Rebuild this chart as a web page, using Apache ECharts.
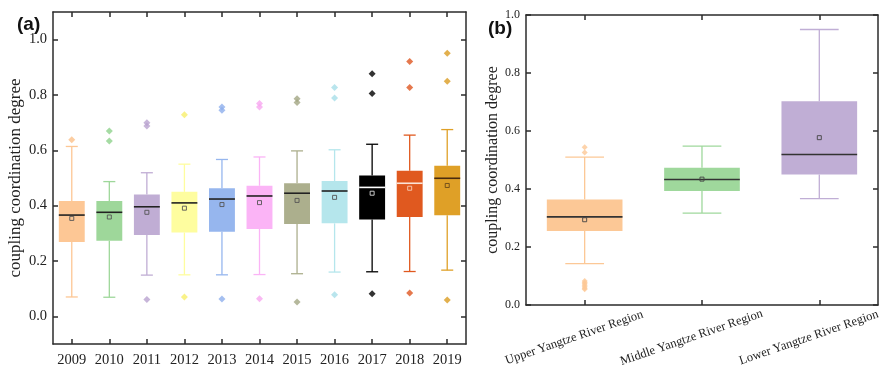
<!DOCTYPE html>
<html>
<head>
<meta charset="utf-8">
<script src="https://cdn.jsdelivr.net/npm/echarts@6/dist/echarts.min.js"></script>
<style>
  html, body { margin: 0; padding: 0; background: #fff; }
  #chart { width: 882px; height: 370px; }
</style>
</head>
<body>
<div id="chart"></div>
<script>
// ---- Panel (a): yearly distribution of the coupling coordination degree ----
const years = ['2009', '2010', '2011', '2012', '2013', '2014', '2015', '2016', '2017', '2018', '2019'];
const lowA  = [0.070, 0.069, 0.149, 0.150, 0.150, 0.151, 0.154, 0.160, 0.161, 0.162, 0.167];
const q1A   = [0.269, 0.273, 0.294, 0.303, 0.306, 0.316, 0.334, 0.336, 0.350, 0.359, 0.365];
const medA  = [0.366, 0.376, 0.396, 0.410, 0.424, 0.435, 0.445, 0.453, 0.466, 0.481, 0.499];
const q3A   = [0.417, 0.417, 0.440, 0.450, 0.463, 0.472, 0.481, 0.489, 0.509, 0.526, 0.544];
const highA = [0.614, 0.487, 0.519, 0.550, 0.567, 0.576, 0.598, 0.602, 0.622, 0.655, 0.675];
const meanA = [0.354, 0.359, 0.376, 0.391, 0.404, 0.411, 0.419, 0.430, 0.445, 0.463, 0.473];
const outA = [
  [0.638],
  [0.670, 0.634],
  [0.700, 0.688, 0.061],
  [0.729, 0.070],
  [0.757, 0.745, 0.063],
  [0.769, 0.757, 0.064],
  [0.786, 0.773, 0.052],
  [0.827, 0.789, 0.078],
  [0.877, 0.805, 0.082],
  [0.921, 0.827, 0.084],
  [0.951, 0.850, 0.059]
];
const yTicksA = [0, 0.2, 0.4, 0.6, 0.8, 1.0];

// ---- Panel (b): distribution by region ----
const regions = ['Upper Yangtze River Region', 'Middle Yangtze River Region', 'Lower Yangtze River Region'];
const lowB  = [0.143, 0.317, 0.367];
const q1B   = [0.255, 0.393, 0.450];
const medB  = [0.304, 0.433, 0.519];
const q3B   = [0.364, 0.473, 0.703];
const highB = [0.510, 0.548, 0.950];
const meanB = [0.294, 0.434, 0.577];
const outB = [
  [0.544, 0.526, 0.083, 0.078, 0.073, 0.068, 0.063, 0.058, 0.054],
  [],
  []
];

// ---- Styling ----
const fillA = ['#FDC795', '#9ED79A', '#C0ADD4', '#FEFD9F', '#96B6EE', '#FBB4F6',
               '#ACAF8D', '#B5E6EC', '#000000', '#E0591F', '#DFA027'];
const dotA  = ['#FBC08A', '#8FD28C', '#B9A3CF', '#F7EF6C', '#8EAFEC', '#F7A8F0',
               '#A3A683', '#A8DFE8', '#000000', '#DE5620', '#DB9C22'];
const medColA  = ['#222', '#222', '#222', '#222', '#222', '#222', '#222', '#222', '#ffffff', '#fbe3d6', '#4a2c0f'];
const meanColA = ['#555', '#555', '#555', '#555', '#555', '#555', '#555', '#555', '#dddddd', '#f6cdb6', '#6b4a1a'];
const fillB = ['#FCC896', '#9FD89C', '#C0AED5'];
const medColB  = ['#333', '#333', '#333'];
const meanColB = ['#444', '#444', '#444'];

const serif = "'Liberation Serif', 'Times New Roman', serif";
const frame = { color: '#2b2b2b', width: 1.5 };

function rows(low, q1, med, q3, high, mean) {
  return low.map((v, i) => [i, v, q1[i], med[i], q3[i], high[i], mean[i]]);
}

function outlierPoints(cats, outs, colors) {
  const pts = [];
  outs.forEach((list, i) => list.forEach(v => pts.push({ value: [cats[i], v], itemStyle: { color: colors[i] } })));
  return pts;
}

function boxRenderer(fills, medCols, meanCols, boxRatio, capRatio) {
  return function (params, api) {
    const i = api.value(0);
    const band = api.size([1, 0])[0];
    const cx = api.coord([i, 0])[0];
    const y = k => api.coord([i, api.value(k)])[1];
    const yLow = y(1), yQ1 = y(2), yMed = y(3), yQ3 = y(4), yHigh = y(5), yMean = y(6);
    const bw = band * boxRatio, cw = band * capRatio;
    const c = fills[params.dataIndex];
    const ws = { stroke: c, lineWidth: 1.3 };
    return {
      type: 'group',
      children: [
        { type: 'line', shape: { x1: cx, y1: yHigh, x2: cx, y2: yQ3 }, style: ws },
        { type: 'line', shape: { x1: cx, y1: yQ1, x2: cx, y2: yLow }, style: ws },
        { type: 'line', shape: { x1: cx - cw / 2, y1: yHigh, x2: cx + cw / 2, y2: yHigh }, style: ws },
        { type: 'line', shape: { x1: cx - cw / 2, y1: yLow, x2: cx + cw / 2, y2: yLow }, style: ws },
        { type: 'rect', shape: { x: cx - bw / 2, y: yQ3, width: bw, height: yQ1 - yQ3 }, style: { fill: c } },
        { type: 'line', shape: { x1: cx - bw / 2, y1: yMed, x2: cx + bw / 2, y2: yMed },
          style: { stroke: medCols[params.dataIndex], lineWidth: 1.6 } },
        { type: 'rect', shape: { x: cx - 2, y: yMean - 2, width: 4, height: 4 },
          style: { fill: 'none', stroke: meanCols[params.dataIndex], lineWidth: 0.9 } }
      ]
    };
  };
}

function catAxis(gridIndex, data, position, labels) {
  return {
    gridIndex, type: 'category', data, position,
    axisLine: { show: true, onZero: false, lineStyle: frame },
    axisTick: { show: true, inside: true, length: 5, alignWithLabel: true, interval: 0, lineStyle: frame },
    axisLabel: labels || { show: false },
    splitLine: { show: false }
  };
}

function valAxis(gridIndex, position, extra) {
  return Object.assign({
    gridIndex, type: 'value', position,
    axisLine: { show: true, onZero: false, lineStyle: frame },
    splitLine: { show: false }
  }, extra);
}

const chart = echarts.init(document.getElementById('chart'), null, { renderer: 'canvas' });

chart.setOption({
  animation: false,
  backgroundColor: '#fff',
  title: [
    { text: '(a)', left: 12, top: 10, textStyle: { fontFamily: "'Liberation Sans', Arial, sans-serif", fontWeight: 'bold', fontSize: 19, color: '#111' } },
    { text: '(b)', left: 483, top: 14, textStyle: { fontFamily: "'Liberation Sans', Arial, sans-serif", fontWeight: 'bold', fontSize: 19, color: '#111' } }
  ],
  grid: [
    { left: 53, top: 12, right: 416, bottom: 26 },
    { left: 526, top: 15, right: -2, bottom: 65 }
  ],
  xAxis: [
    catAxis(0, years, 'bottom', { show: true, interval: 0, hideOverlap: false, fontFamily: serif, fontSize: 14.5, color: '#222', margin: 9 }),
    catAxis(0, years, 'top'),
    catAxis(1, regions, 'bottom', {
      show: true, fontFamily: serif, fontSize: 12.5, color: '#222',
      rotate: 19, align: 'center', verticalAlign: 'middle', margin: 29,
      padding: [0, 22, 0, 0], hideOverlap: false, interval: 0
    }),
    catAxis(1, regions, 'top')
  ],
  yAxis: [
    valAxis(0, 'left', {
      min: -0.1, max: 1.1,
      name: 'coupling coordination degree', nameLocation: 'middle', nameGap: 29,
      nameTextStyle: { fontFamily: serif, fontSize: 17, color: '#222' },
      axisTick: { show: true, inside: true, length: 5, lineStyle: frame, customValues: yTicksA },
      axisLabel: { show: true, customValues: yTicksA, formatter: v => v.toFixed(1),
                   fontFamily: serif, fontSize: 14.5, color: '#222', margin: 6 }
    }),
    valAxis(0, 'right', {
      min: -0.1, max: 1.1,
      axisTick: { show: true, inside: true, length: 5, lineStyle: frame, customValues: yTicksA },
      axisLabel: { show: false }
    }),
    valAxis(1, 'left', {
      min: 0, max: 1, interval: 0.2,
      name: 'coupling coordination degree', nameLocation: 'middle', nameGap: 25,
      nameTextStyle: { fontFamily: serif, fontSize: 16, color: '#222' },
      axisTick: { show: true, inside: true, length: 5, lineStyle: frame },
      axisLabel: { show: true, formatter: v => v.toFixed(1), fontFamily: serif, fontSize: 12, color: '#222', margin: 6 }
    }),
    valAxis(1, 'right', {
      min: 0, max: 1, interval: 0.2,
      axisTick: { show: true, inside: true, length: 5, lineStyle: frame },
      axisLabel: { show: false }
    })
  ],
  series: [
    {
      type: 'custom', xAxisIndex: 0, yAxisIndex: 0,
      data: rows(lowA, q1A, medA, q3A, highA, meanA),
      encode: { x: 0, y: [1, 2, 3, 4, 5, 6] },
      renderItem: boxRenderer(fillA, medColA, meanColA, 0.69, 0.32),
      z: 2
    },
    {
      type: 'scatter', xAxisIndex: 0, yAxisIndex: 0,
      symbol: 'diamond', symbolSize: 7,
      data: outlierPoints(years, outA, dotA),
      z: 3
    },
    {
      type: 'custom', xAxisIndex: 2, yAxisIndex: 2,
      data: rows(lowB, q1B, medB, q3B, highB, meanB),
      encode: { x: 0, y: [1, 2, 3, 4, 5, 6] },
      renderItem: boxRenderer(fillB, medColB, meanColB, 0.645, 0.33),
      z: 2
    },
    {
      type: 'scatter', xAxisIndex: 2, yAxisIndex: 2,
      symbol: 'diamond', symbolSize: 6,
      data: outlierPoints(regions, outB, fillB),
      z: 3
    }
  ]
});
</script>
</body>
</html>
